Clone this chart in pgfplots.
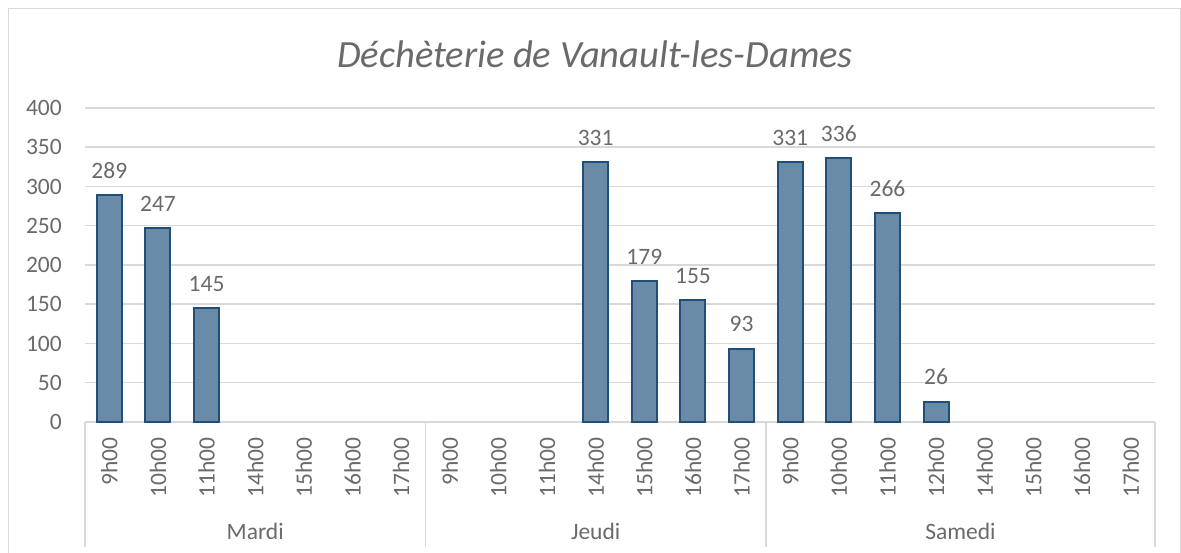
\documentclass[border=0pt]{standalone}
\usepackage{fontspec}
\setmainfont{Carlito}
\usepackage{pgfplots}
\pgfplotsset{compat=1.18}
\definecolor{txt}{HTML}{6A6A6A}
\definecolor{gridc}{HTML}{D9D9D9}
\definecolor{barfill}{RGB}{106,139,168}
\definecolor{baredge}{RGB}{31,78,121}
\begin{document}
\begin{tikzpicture}[x=1pt,y=1pt]
\useasboundingbox (0,0) rectangle (1181,553);
\draw[gridc, line width=1pt] (8,0) -- (8,544) -- (1180,544) -- (1180,0);
\node[anchor=base, text=txt, inner sep=0pt, font=\fontsize{38.5}{46}\selectfont\itshape] at (595,485) {Déchèterie de Vanault-les-Dames};
\begin{axis}[
  at={(85pt,131pt)}, anchor=south west,
  scale only axis, width=1070pt, height=314pt,
  xmin=-0.5, xmax=21.5, ymin=0, ymax=400,
  ytick={0,50,...,400},
  xtick={0,...,21},
  xticklabels={9h00,10h00,11h00,14h00,15h00,16h00,17h00,9h00,10h00,11h00,14h00,15h00,16h00,17h00,9h00,10h00,11h00,12h00,14h00,15h00,16h00,17h00},
  axis line style={draw=none},
  major tick length=0pt,
  ymajorgrids, grid style={gridc, line width=1.5pt},
  tick label style={text=txt, font=\fontsize{23.5}{28}\selectfont},
  /pgf/number format/assume math mode=true,
  yticklabel style={anchor=east, inner sep=0pt, xshift=-23pt},
  xticklabel style={rotate=90, anchor=east, inner sep=0pt},
  xticklabel shift=15pt,
  clip=false,
  ybar, bar width=25pt,
  nodes near coords,
  every node near coord/.append style={text=txt, font=\fontsize{23.5}{28}\selectfont, anchor=base, yshift=17pt, inner sep=0pt},
]
\addplot[fill=barfill, draw=baredge, line width=2pt] coordinates {(0,289)(1,247)(2,145)(10,331)(11,179)(12,155)(13,93)(14,331)(15,336)(16,266)(17,26)};
\draw[gridc, line width=1.5pt] (axis cs:-0.5,0) -- (axis cs:-0.5,-159);
\draw[gridc, line width=1.5pt] (axis cs:6.5,0) -- (axis cs:6.5,-159);
\draw[gridc, line width=1.5pt] (axis cs:13.5,0) -- (axis cs:13.5,-159);
\draw[gridc, line width=1.5pt] (axis cs:21.5,0) -- (axis cs:21.5,-159);
\node[anchor=base, text=txt, inner sep=0pt, font=\fontsize{23.5}{28}\selectfont] at (axis cs:3,-150.3) {Mardi};
\node[anchor=base, text=txt, inner sep=0pt, font=\fontsize{23.5}{28}\selectfont] at (axis cs:10,-150.3) {Jeudi};
\node[anchor=base, text=txt, inner sep=0pt, font=\fontsize{23.5}{28}\selectfont] at (axis cs:17.5,-150.3) {Samedi};
\end{axis}
\end{tikzpicture}
\end{document}
